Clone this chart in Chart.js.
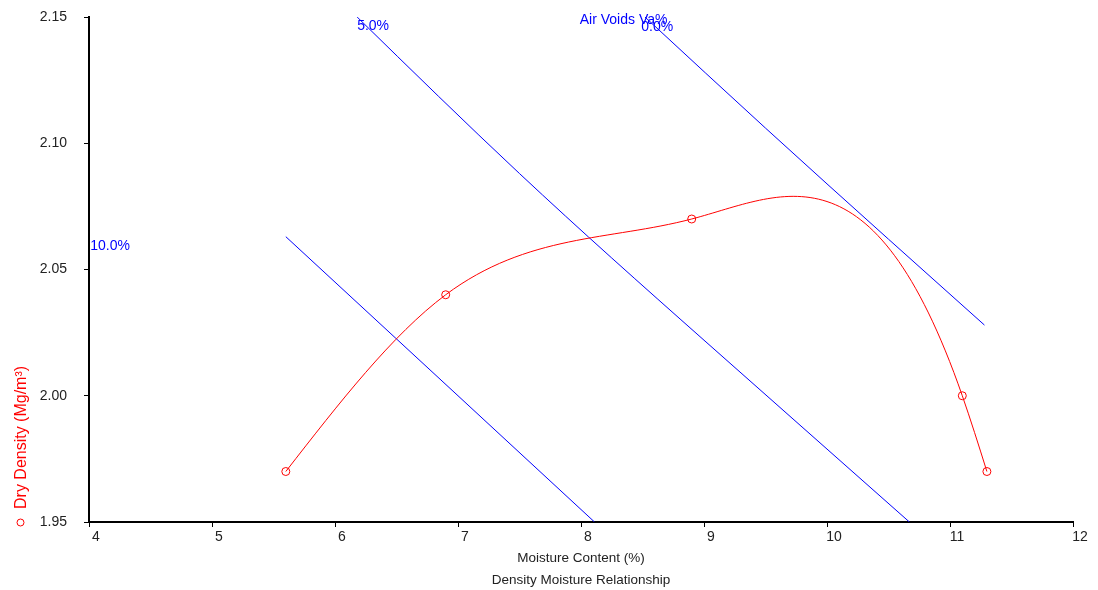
<!DOCTYPE html>
<html>
<head>
<meta charset="utf-8">
<script src="https://cdn.jsdelivr.net/npm/chart.js@4/dist/chart.umd.min.js"></script>
<style>
html, body { margin: 0; padding: 0; background: #fff; }
</style>
</head>
<body>
<canvas id="chart" width="1098" height="590"></canvas>
<script>
// DATOS
const moisture = [5.6, 6.9, 8.9, 11.1, 11.3];
const dryDensity = [1.97, 2.04, 2.07, 2.00, 1.97];

// curvas de vacios de aire
const voids0W = [8.52, 9.5, 10.5, 11.28];
const voids0D = [2.15, 2.106, 2.062, 2.028];
const voids5W = [6.18, 7.5, 9.0, 10.67];
const voids5D = [2.15, 2.088, 2.022, 1.95];
const voids10W = [5.6, 7.0, 8.11];
const voids10D = [2.063, 2.0, 1.95];

const xTicks = [4, 5, 6, 7, 8, 9, 10, 11, 12];
const yTicks = [1.95, 2.00, 2.05, 2.10, 2.15];

const voidLabels = ["0.0%", "5.0%", "10.0%"];
const voidsTitle = "Air Voids Va%";
const xTitle = "Moisture Content (%)";
const chartTitle = "Density Moisture Relationship";
const yTitle = "Dry Density (Mg/m\u00B3)";

const FONT = '"Liberation Sans", Arial, sans-serif';

function pairs(xs, ys) {
    return xs.map((x, i) => ({ x: x, y: ys[i] }));
}

// SPLINE NATURAL -> pendientes en cada punto
function naturalSlopes(xs, ys) {
    const n = xs.length;
    const h = [], d = [];
    for (let i = 0; i < n - 1; i++) {
        h[i] = xs[i + 1] - xs[i];
        d[i] = (ys[i + 1] - ys[i]) / h[i];
    }
    const M = new Array(n).fill(0);
    const a = [], b = [], c = [], r = [];
    for (let i = 1; i < n - 1; i++) {
        a.push(h[i - 1]);
        b.push(2 * (h[i - 1] + h[i]));
        c.push(h[i]);
        r.push(6 * (d[i] - d[i - 1]));
    }
    const m = b.length;
    for (let i = 1; i < m; i++) {
        const w = a[i] / b[i - 1];
        b[i] -= w * c[i - 1];
        r[i] -= w * r[i - 1];
    }
    for (let i = m - 1; i >= 0; i--) {
        M[i + 1] = (r[i] - c[i] * M[i + 2]) / b[i];
    }
    const s = [];
    for (let i = 0; i < n - 1; i++) s[i] = d[i] - h[i] * (2 * M[i] + M[i + 1]) / 6;
    s[n - 1] = d[n - 2] + h[n - 2] * (M[n - 2] + 2 * M[n - 1]) / 6;
    return s;
}

// pone los puntos de control de Chart.js segun la spline
const splinePlugin = {
    id: 'spline',
    beforeDatasetDraw(chart, args) {
        const meta = args.meta;
        const pts = meta.data;
        meta.dataset.updateControlPoints(chart.chartArea, meta.iScale.axis);
        const data = chart.data.datasets[args.index].data;
        const xs = data.map(p => p.x), ys = data.map(p => p.y);
        const s = naturalSlopes(xs, ys);
        const sx = chart.scales.x, sy = chart.scales.y;
        for (let i = 0; i < pts.length; i++) {
            const hp = i > 0 ? xs[i] - xs[i - 1] : 0;
            const hn = i < pts.length - 1 ? xs[i + 1] - xs[i] : 0;
            pts[i].cp1x = sx.getPixelForValue(xs[i] - hp / 3);
            pts[i].cp1y = sy.getPixelForValue(ys[i] - s[i] * hp / 3);
            pts[i].cp2x = sx.getPixelForValue(xs[i] + hn / 3);
            pts[i].cp2y = sy.getPixelForValue(ys[i] + s[i] * hn / 3);
        }
    }
};

// TEXTOS
const textPlugin = {
    id: 'texts',
    afterDraw(chart) {
        const ctx = chart.ctx;
        const sx = chart.scales.x, sy = chart.scales.y;
        const area = chart.chartArea;
        ctx.save();

        ctx.fillStyle = '#0000ff';
        ctx.font = '14px ' + FONT;
        ctx.textAlign = 'left';
        ctx.textBaseline = 'middle';
        ctx.fillText(voidsTitle, sx.getPixelForValue(7.99), sy.getPixelForValue(2.1488));
        ctx.fillText(voidLabels[0], sx.getPixelForValue(8.49), sy.getPixelForValue(2.1458));
        ctx.fillText(voidLabels[1], sx.getPixelForValue(6.18), sy.getPixelForValue(2.1462));
        ctx.fillText(voidLabels[2], sx.getPixelForValue(4.01), sy.getPixelForValue(2.0593));

        const cx = (area.left + area.right) / 2;
        ctx.fillStyle = '#222';
        ctx.textAlign = 'center';
        ctx.font = '13.5px ' + FONT;
        ctx.fillText(xTitle, cx, 558);
        ctx.fillText(chartTitle, cx, 580);

        // titulo eje y + simbolo
        ctx.fillStyle = '#ff0000';
        ctx.strokeStyle = '#ff0000';
        ctx.lineWidth = 1;
        ctx.beginPath();
        ctx.arc(20.5, 522.5, 3.5, 0, Math.PI * 2);
        ctx.stroke();
        ctx.translate(22, 509);
        ctx.rotate(-Math.PI / 2);
        ctx.font = '16px ' + FONT;
        ctx.textAlign = 'left';
        ctx.fillText(yTitle, 0, 0);
        ctx.restore();
    }
};

const tickFont = { family: FONT, size: 14 };

new Chart(document.getElementById('chart'), {
    type: 'line',
    data: {
        datasets: [
            {
                data: pairs(moisture, dryDensity),
                borderColor: '#ff0000',
                borderWidth: 1,
                tension: 0.4,
                pointRadius: 4,
                pointBorderWidth: 1,
                pointBorderColor: '#ff0000',
                pointBackgroundColor: 'rgba(0,0,0,0)',
                fill: false
            },
            {
                data: pairs(voids0W, voids0D),
                borderColor: '#0000ff',
                borderWidth: 1,
                tension: 0.4,
                pointRadius: 0,
                fill: false
            },
            {
                data: pairs(voids5W, voids5D),
                borderColor: '#0000ff',
                borderWidth: 1,
                tension: 0.4,
                pointRadius: 0,
                fill: false
            },
            {
                data: pairs(voids10W, voids10D),
                borderColor: '#0000ff',
                borderWidth: 1,
                tension: 0.4,
                pointRadius: 0,
                fill: false
            }
        ]
    },
    options: {
        responsive: false,
        animation: false,
        devicePixelRatio: 1,
        layout: { autoPadding: false, padding: { top: 17, right: 25, left: 0, bottom: 0 } },
        plugins: {
            legend: { display: false },
            tooltip: { enabled: false }
        },
        scales: {
            x: {
                type: 'linear',
                position: 'bottom',
                min: 4,
                max: 12,
                afterBuildTicks: s => { s.ticks = xTicks.map(v => ({ value: v })); },
                afterFit: s => { s.height = 68; s.paddingLeft = 0; s.paddingRight = 0; },
                border: { display: true, color: '#000', width: 2 },
                grid: { drawOnChartArea: false, tickLength: 5, color: '#000', tickColor: '#000' },
                ticks: {
                    color: '#222',
                    font: tickFont,
                    padding: 2,
                    labelOffset: 7,
                    maxRotation: 0,
                    autoSkip: false,
                    callback: v => String(v)
                }
            },
            y: {
                type: 'linear',
                position: 'left',
                min: 1.95,
                max: 2.15,
                afterBuildTicks: s => { s.ticks = yTicks.map(v => ({ value: v })); },
                afterFit: s => { s.width = 89; s.paddingTop = 0; s.paddingBottom = 0; },
                border: { display: true, color: '#000', width: 2 },
                grid: { drawOnChartArea: false, tickLength: 5, color: '#000', tickColor: '#000' },
                ticks: {
                    color: '#222',
                    font: tickFont,
                    padding: 17,
                    autoSkip: false,
                    callback: v => Number(v).toFixed(2)
                }
            }
        }
    },
    plugins: [splinePlugin, textPlugin]
});
</script>
</body>
</html>
